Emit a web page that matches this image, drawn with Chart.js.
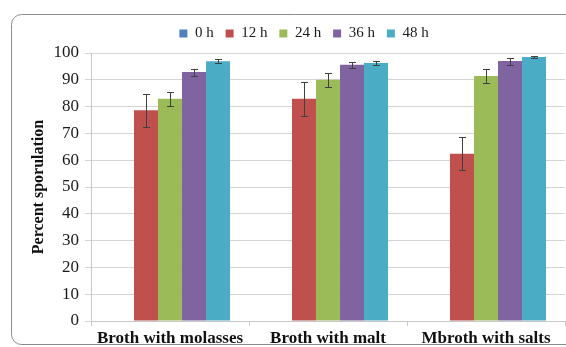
<!DOCTYPE html>
<html>
<head>
<meta charset="utf-8">
<script src="https://cdn.jsdelivr.net/npm/chart.js@4/dist/chart.umd.min.js"></script>
<style>
  html, body { margin: 0; padding: 0; background: #fff; overflow: hidden; }
  #box { position: relative; width: 566px; height: 347px; }
</style>
</head>
<body>
<div id="box"><canvas id="chart"></canvas></div>
<script>
const categories = ['Broth with molasses', 'Broth with malt', 'Mbroth with salts'];
const seriesNames = ['0 h', '12 h', '24 h', '36 h', '48 h'];
const h0 = [0, 0, 0];
const h12 = [78.6, 82.9, 62.4];
const h24 = [82.9, 90.0, 91.4];
const h36 = [92.9, 95.6, 97.0];
const h48 = [96.9, 96.3, 98.5];
const err0 = [0, 0, 0];
const err12 = [6.2, 6.3, 6.2];
const err24 = [2.6, 2.5, 2.5];
const err36 = [1.3, 1.2, 1.3];
const err48 = [0.8, 0.7, 0.5];
const yTicks = [0, 10, 20, 30, 40, 50, 60, 70, 80, 90, 100];

const colors = ['#4f81bd', '#c0504d', '#9bbb59', '#8064a2', '#4bacc6'];
const values = [h0, h12, h24, h36, h48];
const errors = [err0, err12, err24, err36, err48];

const serif = '"Liberation Serif", "Times New Roman", serif';
Chart.defaults.font.family = serif;
Chart.defaults.color = '#1a1a1a';

// rounded outer frame, open on the right like the cropped original
const frame = {
  id: 'frame',
  beforeDraw(chart) {
    const ctx = chart.ctx;
    ctx.save();
    ctx.strokeStyle = '#8c8c8c';
    ctx.lineWidth = 1;
    ctx.beginPath();
    ctx.roundRect(11.5, 14.5, 700, 330, 10);
    ctx.stroke();
    ctx.restore();
  }
};

// error bars drawn from the y scale
const errorBars = {
  id: 'errorBars',
  afterDatasetsDraw(chart) {
    const ctx = chart.ctx;
    const y = chart.scales.y;
    ctx.save();
    ctx.strokeStyle = '#404040';
    ctx.lineWidth = 1;
    chart.data.datasets.forEach((ds, i) => {
      const meta = chart.getDatasetMeta(i);
      meta.data.forEach((bar, j) => {
        const e = errors[i][j];
        if (!e) return;
        const x = Math.round(bar.x) + 0.5;
        const top = Math.round(y.getPixelForValue(ds.data[j] + e)) + 0.5;
        const bot = Math.round(y.getPixelForValue(ds.data[j] - e)) + 0.5;
        ctx.beginPath();
        ctx.moveTo(x, top); ctx.lineTo(x, bot);
        ctx.moveTo(x - 3.5, top); ctx.lineTo(x + 3.5, top);
        ctx.moveTo(x - 3.5, bot); ctx.lineTo(x + 3.5, bot);
        ctx.stroke();
      });
    });
    ctx.restore();
  }
};

const legendHeight = {
  id: 'legendHeight',
  beforeInit(chart) {
    const fit = chart.legend.fit;
    chart.legend.fit = function () {
      fit.bind(chart.legend)();
      this.height = 39;
    };
  }
};

new Chart(document.getElementById('chart'), {
  type: 'bar',
  data: {
    labels: categories,
    datasets: seriesNames.map((name, i) => ({
      label: name,
      data: values[i],
      backgroundColor: colors[i],
      borderWidth: 0,
      barPercentage: 1.0,
      categoryPercentage: 0.76
    }))
  },
  options: {
    responsive: true,
    maintainAspectRatio: false,
    animation: false,
    layout: { padding: { left: 43, right: 1, top: 14, bottom: 0 } },
    plugins: {
      legend: {
        position: 'top',
        labels: { boxWidth: 8, boxHeight: 8, padding: 12, font: { size: 15 }, color: '#1a1a1a' }
      },
      tooltip: { enabled: false }
    },
    scales: {
      x: {
        grid: { offset: true, drawOnChartArea: false, drawTicks: true, tickLength: 5, color: '#c8c8c8' },
        border: { color: '#c8c8c8' },
        ticks: { font: { size: 17, weight: 'bold' }, padding: 2, color: '#111' },
        afterFit(scale) { scale.height = 26; }
      },
      y: {
        min: 0,
        max: 100,
        afterBuildTicks(scale) { scale.ticks = yTicks.map(v => ({ value: v })); },
        grid: { color: '#d4d4d4', tickLength: 6 },
        border: { color: '#c8c8c8' },
        ticks: { font: { size: 17 }, padding: 6, color: '#1a1a1a' },
        title: {
          display: true,
          text: 'Percent sporulation',
          font: { size: 16, weight: 'bold' },
          padding: { top: -14, bottom: 0 },
          color: '#111'
        },
        afterFit(scale) { scale.width = 48; }
      }
    }
  },
  plugins: [frame, errorBars, legendHeight]
});
</script>
</body>
</html>
